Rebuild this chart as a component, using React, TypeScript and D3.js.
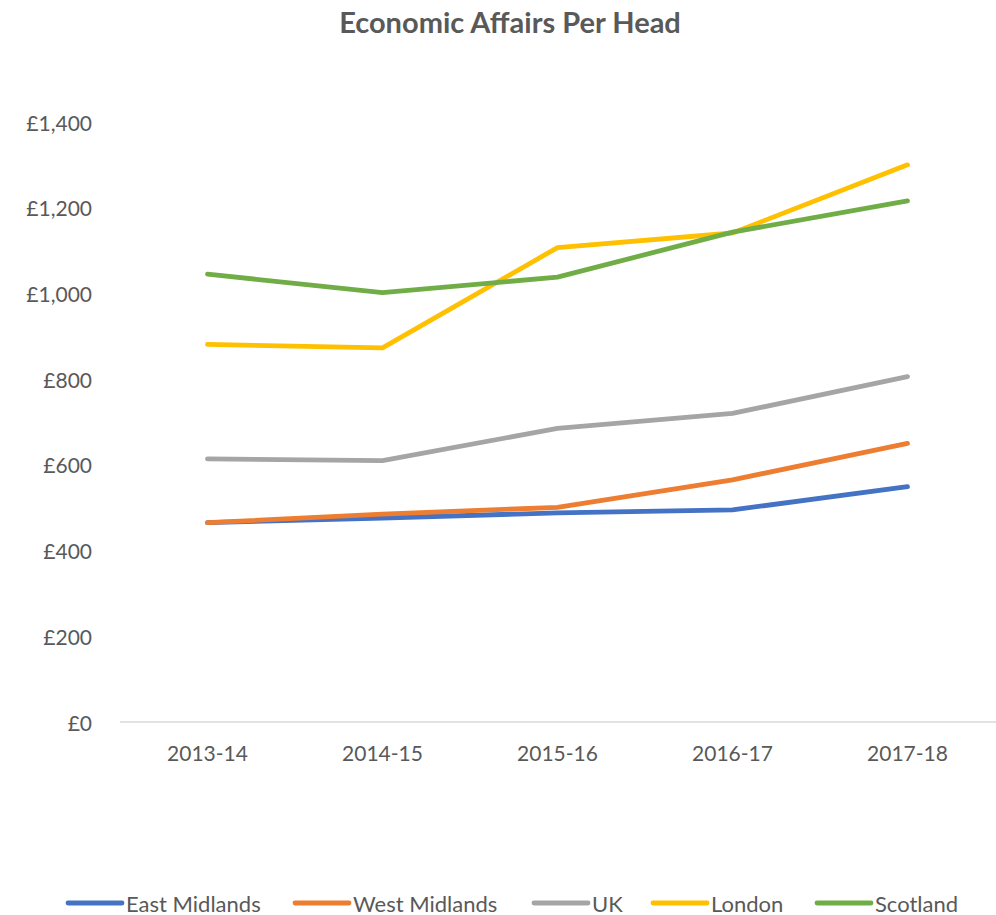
import React from "react";
import * as d3 from "d3";

const categories = ["2013-14", "2014-15", "2015-16", "2016-17", "2017-18"];
const seriesNames = ["East Midlands", "West Midlands", "UK", "London", "Scotland"];
const seriesColors = ["#4472C4", "#ED7D31", "#A5A5A5", "#FFC000", "#70AD47"];
const eastMidlands = [465, 476, 488, 495, 549];
const westMidlands = [465, 485, 501, 565, 650];
const uk = [614, 610, 685, 720, 806];
const london = [881, 873, 1107, 1141, 1300];
const scotland = [1045, 1002, 1038, 1143, 1216];
const yTicks = [0, 200, 400, 600, 800, 1000, 1200, 1400];

const W = 996;
const H = 915;
const FONT = "Lato, 'Open Sans', sans-serif";
const TEXT = "#595959";

export default function App() {
  const values = [eastMidlands, westMidlands, uk, london, scotland];
  const x = d3.scaleBand<string>().domain(categories).range([120, 995]);
  const y = d3.scaleLinear().domain([0, 1400]).range([722, 122]);
  const cx = (c: string) => (x(c) as number) + x.bandwidth() / 2;
  const line = d3
    .line<number>()
    .x((_, i) => cx(categories[i]))
    .y((d) => y(d));
  const fmt = (v: number) => "£" + d3.format(",")(v);

  const legendX = [68, 295, 534, 653, 817];

  return (
    <svg
      width={W}
      height={H}
      style={{ position: "absolute", left: 0, top: 0, background: "#fff" }}
      fontFamily={FONT}
    >
      <rect width={W} height={H} fill="#fff" />
      <text
        x={510}
        y={21}
        textAnchor="middle"
        dominantBaseline="central"
        fontSize={29}
        fontWeight="bold"
        fill={TEXT}
      >
        Economic Affairs Per Head
      </text>
      {yTicks.map((t) => (
        <text
          key={t}
          x={92}
          y={y(t)}
          textAnchor="end"
          dominantBaseline="central"
          fontSize={21}
          fill={TEXT}
        >
          {fmt(t)}
        </text>
      ))}
      <line x1={120} x2={996} y1={y(0)} y2={y(0)} stroke="#D9D9D9" strokeWidth={1.5} />
      {categories.map((c) => (
        <text
          key={c}
          x={cx(c)}
          y={752}
          textAnchor="middle"
          dominantBaseline="central"
          fontSize={21}
          fill={TEXT}
        >
          {c}
        </text>
      ))}
      {values.map((vals, i) => (
        <path
          key={seriesNames[i]}
          d={line(vals) || ""}
          fill="none"
          stroke={seriesColors[i]}
          strokeWidth={4.8}
          strokeLinecap="round"
          strokeLinejoin="round"
        />
      ))}
      {seriesNames.map((n, i) => (
        <g key={n}>
          <line
            x1={legendX[i]}
            x2={legendX[i] + 54}
            y1={903}
            y2={903}
            stroke={seriesColors[i]}
            strokeWidth={4.8}
            strokeLinecap="round"
          />
          <text
            x={legendX[i] + 58}
            y={903}
            dominantBaseline="central"
            fontSize={22}
            fill={TEXT}
          >
            {n}
          </text>
        </g>
      ))}
    </svg>
  );
}
